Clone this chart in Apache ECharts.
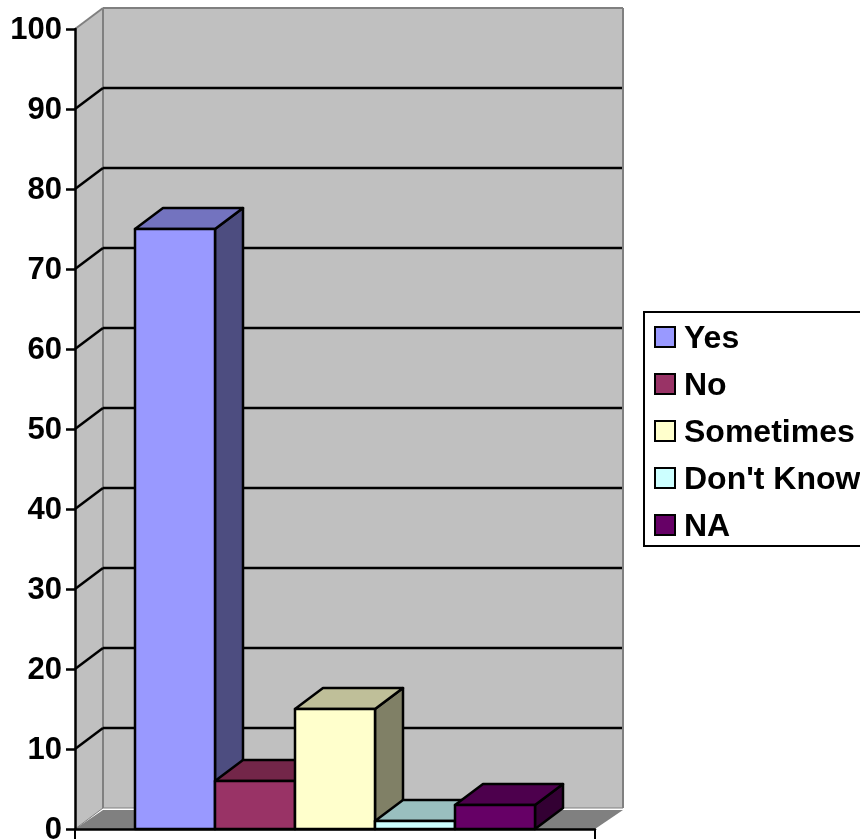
<!DOCTYPE html>
<html>
<head>
<meta charset="utf-8">
<style>html,body{margin:0;padding:0;background:#fff}#c{width:860px;height:839px}</style>
<script src="https://cdn.jsdelivr.net/npm/echarts@6/dist/echarts.min.js"></script>
</head>
<body>
<div id="c"></div>
<script>
var categories = ["Yes", "No", "Sometimes", "Don't Know", "NA"];
var values = [75, 6, 15, 1, 3];
var frontColors = ["#9999FF", "#993366", "#FFFFCC", "#CCFFFF", "#660066"];
var topColors = ["#7373BF", "#732649", "#BFBF99", "#99BFBF", "#4D004D"];
var sideColors = ["#4D4D80", "#4D1933", "#808066", "#668080", "#330033"];
var yTicks = [10, 20, 30, 40, 50, 60, 70, 80, 90];

var DX = 28, DY = -21, LW = 2.5, FONT = "'Liberation Sans', Arial, sans-serif";
var chart = echarts.init(document.getElementById('c'), null, {renderer: 'canvas'});

function poly(points, fill, stroke, width) {
  return {type: 'polygon', shape: {points: points},
    style: {fill: fill, stroke: stroke || null, lineWidth: width || 0, lineJoin: 'round'}};
}
function seg(x1, y1, x2, y2, color, width) {
  return {type: 'line', shape: {x1: x1, y1: y1, x2: x2, y2: y2},
    style: {stroke: color, lineWidth: width, fill: null}};
}

function renderWalls(params, api) {
  var band = api.size([1, 0])[0];
  var c0 = api.coord([0, 0]), c1 = api.coord([0, 100]);
  var L = c0[0] - band / 2, R = c0[0] + band / 2, B = c0[1], T = c1[1];
  var kids = [
    poly([[L, B], [L, T], [L + DX, T + DY], [L + DX, B + DY]], '#C0C0C0'),
    poly([[L + DX, T + DY], [R + DX, T + DY], [R + DX, B + DY], [L + DX, B + DY]], '#C0C0C0'),
    poly([[L, B], [R, B], [R + DX, B + DY + 2], [L + DX, B + DY + 2]], '#808080'),
    seg(L + DX, T + DY, L + DX, B + DY, '#808080', 2),
    seg(L + DX, T + DY, R + DX, T + DY, '#808080', 2),
    seg(R + DX, T + DY, R + DX, B + DY, '#808080', 2),
    seg(L + DX, B + DY, R + DX, B + DY, '#808080', 1),
    seg(L, T, L + DX, T + DY, '#808080', 2),
    seg(L, B, L + DX, B + DY, '#808080', 1)
  ];
  yTicks.forEach(function (v) {
    var y = api.coord([0, v])[1];
    kids.push(seg(L, y, L + DX, y + DY, '#000', LW));
    kids.push(seg(L + DX, y + DY, R + DX - 1, y + DY, '#000', LW));
  });
  return {type: 'group', children: kids};
}

function makeBarRenderer(i) {
  return function (params, api) {
    var band = api.size([1, 0])[0];
    var c = api.coord([0, api.value(1)]);
    var b = api.coord([0, 0]);
    var w = band * 80 / 520;
    var x0 = c[0] - band / 2 + band * 60 / 520 + i * w, x1 = x0 + w;
    var yt = c[1], yb = b[1];
    return {type: 'group', children: [
      poly([[x1, yb], [x1, yt], [x1 + DX, yt + DY], [x1 + DX, yb + DY]], sideColors[i], '#000', LW),
      poly([[x0, yt], [x1, yt], [x1 + DX, yt + DY], [x0 + DX, yt + DY]], topColors[i], '#000', LW),
      poly([[x0, yb], [x1, yb], [x1, yt], [x0, yt]], frontColors[i], '#000', LW)
    ]};
  };
}

var series = [{
  type: 'custom', name: 'walls', z: 1, silent: true, clip: false,
  data: [[0, 0]], encode: {x: 0, y: 1}, renderItem: renderWalls
}];
categories.forEach(function (name, i) {
  series.push({
    type: 'custom', name: name, z: 3, silent: true, clip: false,
    itemStyle: {color: frontColors[i], borderColor: '#000', borderWidth: 2},
    data: [[0, values[i]]], encode: {x: 0, y: 1}, renderItem: makeBarRenderer(i)
  });
});

chart.setOption({
  animation: false,
  backgroundColor: '#fff',
  grid: {left: 75, top: 29, width: 520, height: 800, containLabel: false, outerBoundsMode: 'none'},
  legend: {
    data: categories, orient: 'vertical', left: 644, top: 312, selectedMode: false,
    icon: 'rect', itemWidth: 20, itemHeight: 20, itemGap: 15,
    padding: [11, 24, 3, 10], borderColor: '#000', borderWidth: 2, backgroundColor: '#fff',
    itemStyle: {borderColor: '#000', borderWidth: 2},
    formatter: '{t|{name}}',
    textStyle: {fontFamily: FONT, fontWeight: 'bold', fontSize: 32, color: '#000',
      rich: {t: {fontFamily: FONT, fontWeight: 'bold', fontSize: 32, color: '#000', padding: [4, 0, 0, 4]}}}
  },
  xAxis: {
    type: 'category', data: [''], boundaryGap: true, z: 5,
    axisLine: {show: true, lineStyle: {color: '#000', width: LW}},
    axisTick: {show: true, length: 10, alignWithLabel: false, lineStyle: {color: '#000', width: 2}},
    axisLabel: {show: false}, splitLine: {show: false}
  },
  yAxis: {
    type: 'value', min: 0, max: 100, interval: 10, z: 5,
    axisLine: {show: true, onZero: false, lineStyle: {color: '#000', width: LW}},
    axisTick: {show: true, length: 9, lineStyle: {color: '#000', width: LW}},
    axisLabel: {margin: 13, fontFamily: FONT, fontWeight: 'bold', fontSize: 31, color: '#000',
      formatter: '{v|{value}}',
      rich: {v: {fontFamily: FONT, fontWeight: 'bold', fontSize: 31, color: '#000', padding: [3, 0, 0, 0]}}},
    splitLine: {show: false}
  },
  series: series
});
</script>
</body>
</html>
